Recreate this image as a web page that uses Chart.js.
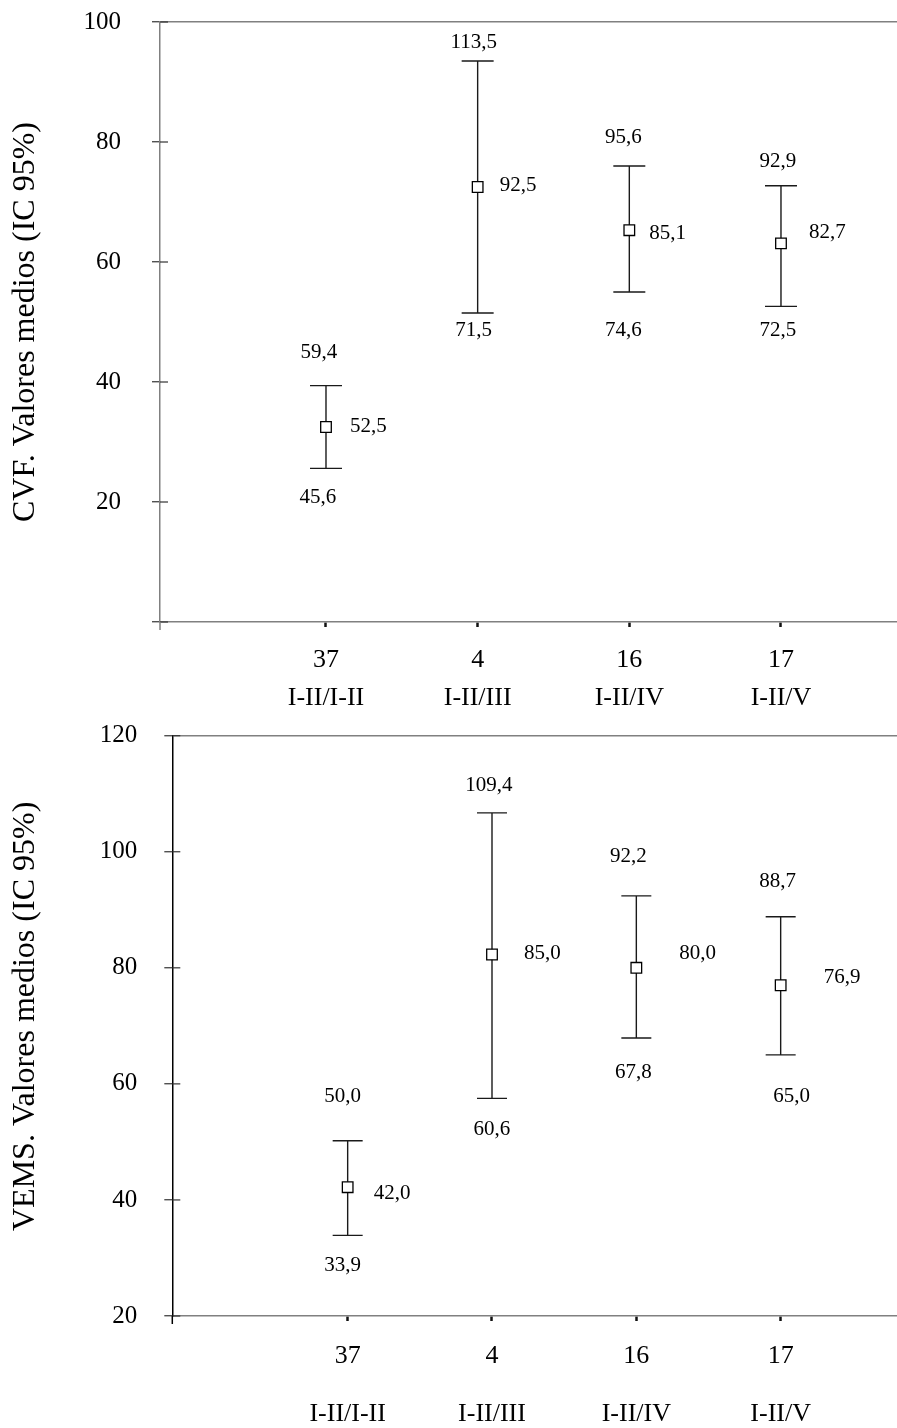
<!DOCTYPE html>
<html><head><meta charset="utf-8">
<script src="https://cdn.jsdelivr.net/npm/chart.js@4.4.0/dist/chart.umd.min.js"></script>
<style>
html,body{margin:0;padding:0;background:#fff;overflow:hidden;}
body{width:897px;height:1428px;position:relative;}
canvas{position:absolute;left:0;display:block;}
#c1{top:0;}
#c2{top:700px;}
</style></head><body>
<canvas id="c1" width="897" height="714"></canvas>
<canvas id="c2" width="897" height="728"></canvas>
<script>
// ---------- DATA ----------
const categories = [1, 2, 3, 4];
const groupCounts = ['37', '4', '16', '17'];
const groupNames = ['I-II/I-II', 'I-II/III', 'I-II/IV', 'I-II/V'];

// CVF (top panel): positions
const cvfMean = [32.5, 72.5, 65.3, 63.1];
const cvfLow = [25.6, 51.5, 55.0, 52.6];
const cvfHigh = [39.4, 93.5, 76.0, 72.7];
// CVF printed values
const cvfMeanText = ['52,5', '92,5', '85,1', '82,7'];
const cvfLowText = ['45,6', '71,5', '74,6', '72,5'];
const cvfHighText = ['59,4', '113,5', '95,6', '92,9'];
const cvfTicks = [0, 20, 40, 60, 80, 100];

// VEMS (bottom panel): positions
const vemsMean = [42.2, 82.3, 80.0, 77.0];
const vemsLow = [33.9, 57.5, 67.9, 65.0];
const vemsHigh = [50.2, 106.7, 92.4, 88.8];
// VEMS printed values
const vemsMeanText = ['42,0', '85,0', '80,0', '76,9'];
const vemsLowText = ['33,9', '60,6', '67,8', '65,0'];
const vemsHighText = ['50,0', '109,4', '92,2', '88,7'];
const vemsTicks = [20, 40, 60, 80, 100, 120];

// ---------- RENDERING ----------
const FONT = "'Liberation Serif', 'Times New Roman', serif";

const ciPlugin = {
  id: 'ci',
  beforeDatasetsDraw(chart, args, o) {
    const { ctx, chartArea } = chart;
    const xs = chart.scales.x, ys = chart.scales.y;
    ctx.save();
    ctx.strokeStyle = '#333'; ctx.lineWidth = 1.2;
    ys.ticks.forEach(t => {
      const y = ys.getPixelForValue(t.value);
      ctx.beginPath(); ctx.moveTo(chartArea.left, y); ctx.lineTo(chartArea.left + 8, y); ctx.stroke();
    });
    ctx.strokeStyle = o.axisColor; ctx.lineWidth = 1.5;
    ctx.beginPath(); ctx.moveTo(chartArea.left, chartArea.bottom); ctx.lineTo(chartArea.left, chartArea.bottom + 8); ctx.stroke();
    ctx.strokeStyle = '#1a1a1a'; ctx.lineWidth = 1.4;
    categories.forEach((c, i) => {
      const x = xs.getPixelForValue(c);
      const yl = ys.getPixelForValue(o.low[i]);
      const yh = ys.getPixelForValue(o.high[i]);
      ctx.beginPath();
      ctx.moveTo(x, yl); ctx.lineTo(x, yh);
      ctx.moveTo(x - o.cap, yl); ctx.lineTo(x + o.cap, yl);
      ctx.moveTo(x - o.cap, yh); ctx.lineTo(x + o.cap, yh);
      ctx.stroke();
    });
    ctx.restore();
  },
  afterDatasetsDraw(chart, args, o) {
    const { ctx, chartArea } = chart;
    const xs = chart.scales.x, ys = chart.scales.y;
    ctx.save();
    ctx.fillStyle = '#000';
    ctx.font = '21px ' + FONT;
    ctx.textBaseline = 'middle';
    categories.forEach((c, i) => {
      const x = xs.getPixelForValue(c);
      const yl = ys.getPixelForValue(o.low[i]);
      const yh = ys.getPixelForValue(o.high[i]);
      const ym = ys.getPixelForValue(o.mean[i]);
      ctx.textAlign = 'center';
      ctx.fillText(o.highText[i], x + o.hiDx[i], yh + o.hiDy[i]);
      ctx.fillText(o.lowText[i], x + o.loDx[i], yl + o.loDy[i]);
      ctx.textAlign = 'left';
      ctx.fillText(o.meanText[i], x + o.mDx[i], ym + o.mDy[i]);
    });
    // axis title
    ctx.font = '32px ' + FONT;
    ctx.textAlign = 'center';
    ctx.translate(o.titleX, (chartArea.top + chartArea.bottom) / 2 + o.titleDy);
    ctx.rotate(-Math.PI / 2);
    ctx.fillText(o.title, 0, 0);
    ctx.restore();
  }
};

function makeChart(id, cfg) {
  const yMax = cfg.ticks[cfg.ticks.length - 1];
  return new Chart(document.getElementById(id), {
    type: 'scatter',
    data: {
      datasets: [{
        data: categories.map((c, i) => ({ x: c, y: cfg.mean[i] })),
        pointStyle: 'rect',
        pointRadius: 7.5,
        pointBackgroundColor: '#fff',
        pointBorderColor: '#000',
        pointBorderWidth: 1.3,
        showLine: false
      }]
    },
    options: {
      responsive: false,
      animation: false,
      devicePixelRatio: 1,
      layout: { autoPadding: false, padding: { top: cfg.padTop, right: 0, bottom: 0, left: 0 } },
      plugins: {
        legend: { display: false },
        tooltip: { enabled: false },
        ci: cfg.ci
      },
      scales: {
        x: {
          type: 'linear',
          min: cfg.xMin, max: cfg.xMax,
          afterBuildTicks: s => { s.ticks = categories.map(v => ({ value: v })); },
          afterFit: s => { s.height = cfg.xHeight; s.paddingLeft = 0; s.paddingRight = 0; },
          border: { display: true, color: '#808080', width: 1.5 },
          grid: { drawOnChartArea: false, drawTicks: true, tickLength: 5, tickWidth: 2.5, tickColor: '#111' },
          ticks: {
            autoSkip: false, maxRotation: 0, padding: cfg.xPad, color: '#000',
            font: { family: FONT, size: 26, lineHeight: cfg.xLineH },
            callback: v => { const i = categories.indexOf(v); return i < 0 ? '' : [groupCounts[i], groupNames[i]]; }
          }
        },
        y: {
          min: cfg.ticks[0], max: yMax,
          afterBuildTicks: s => { s.ticks = cfg.ticks.map(v => ({ value: v })); },
          afterFit: s => { s.width = cfg.yWidth; s.paddingTop = 0; s.paddingBottom = 0; },
          border: { display: true, color: cfg.ci.axisColor, width: 1.5 },
          grid: {
            drawOnChartArea: true,
            color: c => (c.tick && c.tick.value === yMax) ? '#808080' : 'rgba(0,0,0,0)',
            lineWidth: 1.5, drawTicks: true, tickLength: 8, tickColor: '#333', tickWidth: 1.2
          },
          ticks: {
            padding: cfg.yPad, color: '#000',
            font: { family: FONT, size: 25 },
            callback: v => (v === 0 ? '' : String(v))
          },
          title: { display: false }
        }
      }
    },
    plugins: [ciPlugin]
  });
}

makeChart('c1', {
  mean: cvfMean, ticks: cvfTicks,
  padTop: 22, xHeight: 92, yWidth: 160, yPad: 31,
  xMin: -0.0945, xMax: 4.765, xPad: 14, xLineH: 38 / 26,
  ci: {
    axisColor: '#808080', cap: 16,
    title: 'CVF. Valores medios (IC 95%)', titleX: 26, titleDy: 0,
    mean: cvfMean, low: cvfLow, high: cvfHigh,
    meanText: cvfMeanText, lowText: cvfLowText, highText: cvfHighText,
    hiDx: [-7, -4, -6, -3], hiDy: [-33, -19, -29, -24],
    loDx: [-8, -4, -6, -3], loDy: [29, 17, 38, 24],
    mDx: [24, 22, 20, 28], mDy: [-1, -2, 3, -11]
  }
});

makeChart('c2', {
  mean: vemsMean, ticks: vemsTicks,
  padTop: 35.7, xHeight: 112, yWidth: 172.3, yPad: 27,
  xMin: -0.215, xMax: 4.806, xPad: 6, xLineH: 58 / 26,
  ci: {
    axisColor: '#000', cap: 15,
    title: 'VEMS. Valores medios (IC 95%)', titleX: 26, titleDy: -9.5,
    mean: vemsMean, low: vemsLow, high: vemsHigh,
    meanText: vemsMeanText, lowText: vemsLowText, highText: vemsHighText,
    hiDx: [-5, -3, -8, -3], hiDy: [-44, -27, -39, -35],
    loDx: [-5, 0, -3, 11], loDy: [30, 31, 34, 42],
    mDx: [26, 32, 43, 43], mDy: [6, -1, -14, -8]
  }
});
</script>
</body></html>
